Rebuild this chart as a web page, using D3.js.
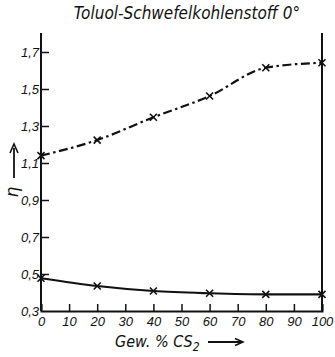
<!DOCTYPE html>
<html>
<head>
<meta charset="utf-8">
<script src="https://cdn.jsdelivr.net/npm/d3@7"></script>
<style>
  html, body { margin: 0; padding: 0; background: #fff; }
  svg { display: block; }
  text { font-family: "Liberation Sans Narrow", "DejaVu Sans Condensed", sans-serif; font-style: italic; fill: #111; }
</style>
</head>
<body>
<svg id="chart" width="335" height="357"></svg>
<script>
// Composition in weight percent CS2
const percentCS2 = [0, 20, 40, 60, 80, 100];
// Viscosity η of the two series at 0°
const etaUpper = [1.14, 1.224, 1.347, 1.462, 1.615, 1.642];
const etaLower = [0.477, 0.435, 0.408, 0.396, 0.39, 0.39];
const xTicks = [0, 10, 20, 30, 40, 50, 60, 70, 80, 90, 100];
const yTicks = [0.3, 0.5, 0.7, 0.9, 1.1, 1.3, 1.5, 1.7];

const svg = d3.select("#chart");
const ink = "#111";

const x = d3.scaleLinear().domain([0, 100]).range([41, 322]);
const y = d3.scaleLinear().domain([0.3, 1.7]).range([311, 52]);
const yTop = 33;

const fmt = d => d.toFixed(1).replace(".", ",");

// frame: left axis, bottom axis, right border
svg.append("line").attr("x1", x(0)).attr("x2", x(0)).attr("y1", yTop).attr("y2", y(0.3))
  .attr("stroke", ink).attr("stroke-width", 2);
svg.append("line").attr("x1", x(100)).attr("x2", x(100)).attr("y1", yTop).attr("y2", y(0.3))
  .attr("stroke", ink).attr("stroke-width", 2);

const xAxis = d3.axisBottom(x).tickValues(xTicks).tickSize(-7).tickFormat(d => d);
const gx = svg.append("g").attr("transform", `translate(0,${y(0.3)})`).call(xAxis);
gx.select(".domain").attr("stroke", ink).attr("stroke-width", 2);
gx.selectAll(".tick line").attr("stroke", ink).attr("stroke-width", 1.5);
gx.selectAll(".tick text").attr("font-size", 13).attr("dy", "0.95em").attr("fill", ink)
  .style("font-family", "'Liberation Sans Narrow', sans-serif");

const yAxis = d3.axisLeft(y).tickValues(yTicks).tickSize(-8).tickFormat(fmt);
const gy = svg.append("g").attr("transform", `translate(${x(0)},0)`).call(yAxis);
gy.select(".domain").remove();
gy.selectAll(".tick line").attr("stroke", ink).attr("stroke-width", 1.5);
gy.selectAll(".tick text").attr("font-size", 13).attr("x", -2).attr("fill", ink)
  .style("font-family", "'Liberation Sans Narrow', sans-serif");
gy.selectAll(".tick").filter(d => d === 0.3).select("line").remove();

// curves
const line = d3.line().x((d, i) => x(percentCS2[i])).y(d => y(d)).curve(d3.curveMonotoneX);

svg.append("path").datum(etaUpper).attr("d", line)
  .attr("fill", "none").attr("stroke", ink).attr("stroke-width", 2.2)
  .attr("stroke-dasharray", "9,3.5,2.5,3.5");
svg.append("path").datum(etaLower).attr("d", line)
  .attr("fill", "none").attr("stroke", ink).attr("stroke-width", 2.2);

// cross markers at measured points
function crosses(values) {
  const s = 3.5;
  values.forEach((v, i) => {
    const cx = x(percentCS2[i]), cy = y(v);
    svg.append("path")
      .attr("d", `M${cx - s},${cy - s}L${cx + s},${cy + s}M${cx - s},${cy + s}L${cx + s},${cy - s}`)
      .attr("stroke", ink).attr("stroke-width", 1.6).attr("fill", "none");
  });
}
crosses(etaUpper);
crosses(etaLower);

// title
svg.append("text").attr("x", 187).attr("y", 19).attr("text-anchor", "middle")
  .attr("font-size", 17).text("Toluol-Schwefelkohlenstoff 0°");

// y label with arrow
svg.append("text").attr("transform", "translate(18,192) rotate(-90)")
  .attr("text-anchor", "middle").attr("font-size", 17).style("font-family", "'DejaVu Sans', sans-serif").text("η");
svg.append("line").attr("x1", 14).attr("x2", 14).attr("y1", 178).attr("y2", 148)
  .attr("stroke", ink).attr("stroke-width", 1.8);
svg.append("path").attr("d", "M10,153L14,144L18,153").attr("stroke", ink).attr("stroke-width", 1.6).attr("fill", "none");

// x label with arrow
const xl = svg.append("text").attr("x", 115).attr("y", 347).attr("font-size", 16);
xl.append("tspan").text("Gew. % CS");
xl.append("tspan").attr("font-size", 12).attr("dy", 4).text("2");
svg.append("line").attr("x1", 208).attr("x2", 242).attr("y1", 342).attr("y2", 342)
  .attr("stroke", ink).attr("stroke-width", 1.8);
svg.append("path").attr("d", "M235,338.5L243,342L235,345.5").attr("stroke", ink).attr("stroke-width", 1.5).attr("fill", "none");
</script>
</body>
</html>
